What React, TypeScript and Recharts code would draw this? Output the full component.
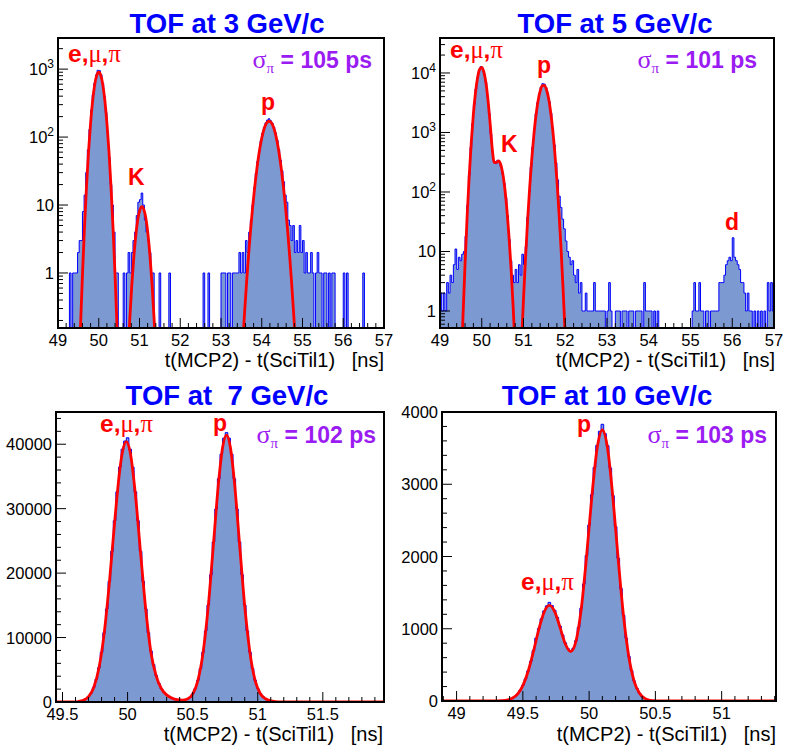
import { Area, ComposedChart, Line, XAxis, YAxis } from "recharts";

const SANS = '"Liberation Sans", Arial, Helvetica, sans-serif';
const SERIF = '"Liberation Serif", "DejaVu Serif", serif';
const HIST_FILL = "#7d99d1";
const HIST_LINE = "#0000ff";
const FIT_RED = "#ff0000";
const TITLE_BLUE = "#0000ff";
const VIOLET = "#9a1cf2";
const AXIS_TITLE = "t(MCP2) - t(SciTil1)   [ns]";

// 3 GeV/c: counts per 0.04 ns bin, one row per ns from 49 ns
const start3 = 49.0;
const width3 = 0.04;
const counts3 = [
  0, 0, 0, 0, 0, 0, 0, 1, 0, 1, 1, 1, 2, 3, 3, 8, 14, 30, 65, 130, 250, 420, 620, 820, 960,
  950, 830, 620, 400, 230, 120, 50, 20, 10, 4, 1, 1, 0, 0, 0, 1, 0, 1, 2, 1, 2, 3, 4, 7, 11,
  12, 15, 10, 6, 4, 3, 2, 1, 1, 0, 0, 0, 1, 0, 0, 0, 0, 0, 1, 0, 0, 0, 0, 0, 0,
  0, 0, 0, 0, 0, 0, 0, 0, 0, 0, 0, 0, 0, 0, 1, 0, 0, 1, 0, 0, 0, 0, 0, 0, 0,
  1, 1, 1, 0, 1, 1, 0, 1, 1, 1, 1, 2, 1, 2, 1, 3, 2, 4, 6, 10, 18, 29, 44, 63, 88,
  114, 140, 162, 178, 186, 174, 160, 140, 115, 90, 66, 46, 32, 22, 14, 11, 6, 5, 3, 5, 2, 3, 2, 5, 2,
  3, 1, 2, 1, 1, 2, 1, 0, 1, 2, 1, 1, 0, 1, 1, 0, 1, 0, 1, 1, 0, 0, 0, 0, 0,
  1, 0, 1, 0, 0, 0, 0, 0, 0, 0, 0, 0, 1, 0, 0, 0, 0, 0, 0, 0, 0, 0, 0, 0, 0,
];
const fit3Pion: [number, number][] = [
  [49.5, 0.02], [49.55, 0.15], [49.6, 0.93], [49.65, 4.7], [49.7, 19], [49.75, 62], [49.8, 162],
  [49.85, 343], [49.9, 586], [49.95, 808], [50.0, 900], [50.05, 808], [50.1, 586], [50.15, 343],
  [50.2, 162], [50.25, 62], [50.3, 19], [50.35, 4.7], [50.4, 0.93], [50.45, 0.15], [50.5, 0.02],
];
const fit3Kaon: [number, number][] = [
  [50.71, 0.05], [50.76, 0.2], [50.81, 0.65], [50.86, 1.7], [50.91, 3.6], [50.96, 6.2], [51.01, 8.5],
  [51.06, 9.5], [51.11, 8.5], [51.16, 6.2], [51.21, 3.6], [51.26, 1.7], [51.31, 0.65], [51.36, 0.2],
  [51.41, 0.05],
];
const fit3Proton: [number, number][] = [
  [53.48, 0.025], [53.53, 0.088], [53.58, 0.27], [53.63, 0.76], [53.68, 1.95], [53.73, 4.6],
  [53.78, 9.8], [53.83, 19], [53.88, 34], [53.93, 56], [53.98, 84], [54.03, 115], [54.08, 144],
  [54.13, 164], [54.18, 172], [54.23, 164], [54.28, 144], [54.33, 115], [54.38, 84], [54.43, 56],
  [54.48, 34], [54.53, 19], [54.58, 9.8], [54.63, 4.6], [54.68, 1.95], [54.73, 0.76], [54.78, 0.27],
  [54.83, 0.088], [54.88, 0.025],
];

// 5 GeV/c: counts per 0.04 ns bin, one row per ns from 49 ns
const start5 = 49.0;
const width5 = 0.04;
const counts5 = [
  2, 1, 2, 1, 3, 2, 4, 3, 6, 11, 5, 8, 7, 9, 10, 18, 60, 190, 560, 1400, 2950, 5400, 8300, 11100, 12800,
  12100, 9700, 6900, 4000, 2100, 950, 470, 320, 300, 340, 330, 270, 200, 140, 80, 40, 16, 7, 4, 3, 5, 3, 6, 4, 9,
  6, 12, 38, 100, 260, 570, 1150, 2050, 3200, 4500, 5800, 6600, 6500, 5700, 4600, 3300, 2100, 1200, 620, 310, 160, 85, 55, 35, 24,
  15, 10, 8, 6, 7, 4, 3, 5, 2, 3, 1, 1, 2, 1, 1, 1, 1, 3, 1, 1, 1, 1, 1, 1, 0,
  1, 3, 1, 0, 0, 1, 1, 1, 0, 1, 1, 1, 0, 1, 1, 1, 0, 1, 1, 1, 1, 0, 3, 1, 1,
  1, 1, 0, 1, 0, 1, 0, 0, 0, 0, 0, 0, 0, 0, 0, 0, 0, 0, 0, 0, 0, 0, 0, 0, 0,
  0, 1, 3, 1, 1, 3, 1, 1, 0, 1, 1, 0, 1, 1, 1, 1, 1, 3, 3, 3, 4, 6, 7, 8, 7,
  17, 8, 7, 6, 5, 3, 3, 2, 1, 2, 1, 1, 0, 1, 0, 1, 0, 1, 0, 1, 0, 3, 1, 3, 1,
];
const fit5PionKaon: [number, number][] = [
  [49.5, 0.077], [49.55, 0.79], [49.6, 6.2], [49.65, 39], [49.7, 187], [49.75, 700], [49.8, 2060],
  [49.85, 4690], [49.9, 8340], [49.95, 11540], [50.0, 12440], [50.05, 10440], [50.1, 6830],
  [50.15, 3500], [50.2, 1430], [50.25, 544], [50.3, 313], [50.35, 314], [50.4, 332], [50.45, 295],
  [50.5, 210], [50.55, 119], [50.6, 53], [50.65, 19], [50.7, 5.5], [50.75, 1.25], [50.8, 0.23],
  [50.85, 0.033],
];
const fit5Proton: [number, number][] = [
  [50.95, 0.26], [51.0, 1.6], [51.05, 8.1], [51.1, 35], [51.15, 125], [51.2, 375], [51.25, 940],
  [51.3, 1970], [51.35, 3430], [51.4, 5000], [51.45, 6100], [51.5, 6210], [51.55, 5280], [51.6, 3750],
  [51.65, 2230], [51.7, 1100], [51.75, 458], [51.8, 159], [51.85, 46], [51.9, 11], [51.95, 2.2],
  [52.0, 0.37], [52.05, 0.05],
];

// 7 GeV/c: counts per 0.02 ns bin from 49.45 ns, 25 bins per row
const start7 = 49.45;
const width7 = 0.02;
const counts7 = [
  0, 0, 1, 2, 4, 8, 18, 36, 73, 142, 265, 480, 840, 1400, 2270, 3540, 5330, 7710, 10750, 14450, 18720, 23380, 28130, 32610, 36440,
  39230, 40500, 41000, 39230, 36440, 32610, 28130, 23380, 18720, 14450, 10750, 7900, 5800, 4100, 2900, 2050, 1500, 1100, 800, 600, 450, 340, 300, 300, 320,
  420, 720, 1240, 2080, 3360, 5200, 7730, 11020, 15050, 19740, 24830, 29950, 34650, 38460, 40940, 41800, 40940, 38460, 34650, 29950, 24830, 19740, 15050, 11020, 7730,
  5200, 3360, 2080, 1300, 800, 500, 300, 180, 100, 60, 30, 15, 8, 4, 2, 1, 0, 0, 0, 0, 0, 0, 0, 0, 0,
  0, 0, 0, 0, 0, 0, 0, 0, 0, 0, 0, 0, 0, 0, 0, 0, 0, 0, 0, 0, 0, 0, 0, 0, 0,
  0,
];
const fit7: [number, number][] = [
  [49.45, 0], [49.5, 1], [49.54, 4], [49.58, 18], [49.62, 72], [49.66, 262], [49.7, 828], [49.74, 2246],
  [49.78, 5260], [49.82, 10620], [49.86, 18490], [49.9, 27780], [49.94, 36000], [49.96, 38740],
  [49.99, 40400], [50.02, 38740], [50.06, 32200], [50.1, 23100], [50.14, 14280], [50.18, 7610],
  [50.22, 4000], [50.26, 2050], [50.3, 1100], [50.34, 600], [50.38, 360], [50.42, 300], [50.46, 480],
  [50.5, 1225], [50.54, 3330], [50.58, 7660], [50.62, 14900], [50.66, 24590], [50.7, 34320],
  [50.73, 39500], [50.76, 41400], [50.79, 39500], [50.82, 34320], [50.86, 24590], [50.9, 14900],
  [50.94, 7660], [50.98, 3330], [51.02, 1290], [51.06, 500], [51.1, 180], [51.14, 60], [51.18, 15],
  [51.22, 4], [51.26, 1], [51.3, 0], [51.97, 0],
];

// 10 GeV/c: counts per 0.02 ns bin from 48.89 ns, 25 bins per row
const start10 = 48.89;
const width10 = 0.02;
const counts10 = [
  0, 0, 0, 0, 0, 0, 0, 0, 0, 0, 0, 0, 0, 0, 0, 0, 0, 0, 0, 0, 1, 2, 4, 7, 13,
  22, 38, 62, 98, 149, 217, 307, 418, 549, 697, 870, 1002, 1138, 1247, 1317, 1365, 1321, 1256, 1158, 1038, 914, 805, 725, 695, 729,
  833, 1019, 1284, 1620, 2014, 2435, 2855, 3233, 3538, 3734, 3830, 3700, 3534, 3226, 2842, 2413, 1976, 1558, 1186, 870, 616, 422, 277, 176, 108,
  63, 36, 20, 10, 5, 3, 1, 0, 0, 0, 0, 0, 0, 0, 0, 0, 0, 0, 0, 0, 0, 0, 0, 0, 0,
  0, 0, 0, 0, 0, 0, 0, 0, 0, 0, 0, 0, 0, 0, 0, 0, 0, 0, 0, 0, 0, 0, 0, 0, 0,
  0,
];
const fit10: [number, number][] = [
  [48.89, 0], [49.26, 0], [49.3, 1], [49.34, 4], [49.38, 12], [49.42, 37], [49.46, 96], [49.5, 214],
  [49.54, 412], [49.58, 686], [49.62, 987], [49.66, 1229], [49.7, 1323], [49.74, 1238], [49.78, 1023],
  [49.82, 792], [49.86, 685], [49.9, 822], [49.94, 1266], [49.98, 1987], [50.02, 2818], [50.06, 3492],
  [50.1, 3751], [50.14, 3488], [50.18, 2805], [50.22, 1950], [50.26, 1170], [50.3, 608], [50.34, 273],
  [50.38, 106], [50.42, 36], [50.46, 10], [50.5, 3], [50.54, 1], [50.58, 0], [51.41, 0],
];

const xMajor3 = [49, 50, 51, 52, 53, 54, 55, 56, 57];
const yMajor3 = [1, 10, 100, 1000];
const yMajor5 = [1, 10, 100, 1000, 10000];
const xMajor7 = [49.5, 50, 50.5, 51, 51.5];
const yMajor7 = [0, 10000, 20000, 30000, 40000];
const xMajor10 = [49, 49.5, 50, 50.5, 51];
const yMajor10 = [0, 1000, 2000, 3000, 4000];

type Pt = { x: number; y: number };

const toHist = (start: number, width: number, counts: number[], floor = 0): Pt[] => {
  const pts = counts.map((c, i) => ({ x: start + i * width, y: Math.max(c, floor) }));
  pts.push({ x: start + counts.length * width, y: Math.max(counts[counts.length - 1], floor) });
  return pts;
};
const toPts = (pairs: [number, number][]): Pt[] => pairs.map(([x, y]) => ({ x, y }));

const steps = (from: number, to: number, step: number) => {
  const out: number[] = [];
  for (let v = from; v <= to + 1e-9; v += step) out.push(Math.round(v * 1000) / 1000);
  return out;
};
const logSteps = (lo: number, hi: number) => {
  const out: number[] = [];
  for (let e = -1; e <= 5; e++)
    for (let m = 1; m <= 9; m++) {
      const v = +(m * 10 ** e).toPrecision(3);
      if (v >= lo && v <= hi) out.push(v);
    }
  return out;
};
const isMajor = (majors: number[], v: number) =>
  majors.some((m) => Math.abs(m - v) <= 1e-6 * Math.max(1, Math.abs(m)));

function XTick(props: any) {
  const { x, y, payload, majors } = props;
  const v: number = payload.value;
  const major = isMajor(majors, v);
  return (
    <g>
      <line x1={x} x2={x} y1={y} y2={y - (major ? 10 : 5)} stroke="#000" strokeWidth={1} />
      {major && (
        <text x={x} y={y + 18} textAnchor="middle" fontFamily={SANS} fontSize={16.5} fill="#000">
          {String(v)}
        </text>
      )}
    </g>
  );
}

function YTick(props: any) {
  const { x, y, payload, majors, log } = props;
  const v: number = payload.value;
  const major = isMajor(majors, v);
  let label = null;
  if (major) {
    if (log && v >= 100) {
      label = (
        <text x={x - 4} y={y + 6} textAnchor="end" fontFamily={SANS} fontSize={16.5} fill="#000">
          10
          <tspan dy={-7} fontSize={12}>
            {Math.round(Math.log10(v))}
          </tspan>
        </text>
      );
    } else {
      label = (
        <text x={x - 4} y={y + 6} textAnchor="end" fontFamily={SANS} fontSize={16.5} fill="#000">
          {String(v)}
        </text>
      );
    }
  }
  return (
    <g>
      <line x1={x} x2={x + (major ? 10 : 5)} y1={y} y2={y} stroke="#000" strokeWidth={1} />
      {label}
    </g>
  );
}

type PanelProps = {
  left: number;
  top: number;
  width: number;
  height: number;
  marginTop: number;
  marginRight: number;
  yWidth: number;
  xHeight: number;
  xDomain: [number, number];
  yDomain: [number, number];
  log: boolean;
  xTicks: number[];
  xMajor: number[];
  yTicks: number[];
  yMajor: number[];
  hist: Pt[];
  fits: Pt[][];
};

function Panel(p: PanelProps) {
  return (
    <div style={{ position: "absolute", left: p.left, top: p.top }}>
      <ComposedChart
        width={p.width}
        height={p.height}
        margin={{ top: p.marginTop, right: p.marginRight, bottom: 0, left: 0 }}
      >
        <Area
          data={p.hist}
          dataKey="y"
          type="stepAfter"
          stroke={HIST_LINE}
          strokeWidth={1}
          fill={HIST_FILL}
          fillOpacity={1}
          dot={false}
          activeDot={false}
          isAnimationActive={false}
        />
        {p.fits.map((f, i) => (
          <Line
            key={i}
            data={f}
            dataKey="y"
            type="monotone"
            stroke={FIT_RED}
            strokeWidth={2.8}
            dot={false}
            activeDot={false}
            isAnimationActive={false}
          />
        ))}
        <XAxis
          type="number"
          dataKey="x"
          domain={p.xDomain}
          allowDataOverflow
          ticks={p.xTicks}
          interval={0}
          height={p.xHeight}
          tickSize={0}
          tickMargin={0}
          tickLine={false}
          axisLine={false}
          tick={<XTick majors={p.xMajor} />}
        />
        <YAxis
          type="number"
          scale={p.log ? "log" : "linear"}
          domain={p.yDomain}
          allowDataOverflow
          ticks={p.yTicks}
          interval={0}
          width={p.yWidth}
          tickSize={0}
          tickMargin={0}
          tickLine={false}
          axisLine={false}
          tick={<YTick majors={p.yMajor} log={p.log} />}
        />
      </ComposedChart>
    </div>
  );
}

function Particles({ x, y }: { x: number; y: number }) {
  return (
    <text x={x} y={y} fill={FIT_RED} fontSize={24.5}>
      <tspan fontFamily={SANS} fontWeight="bold">e,</tspan>
      <tspan fontFamily={SERIF}>μ</tspan>
      <tspan fontFamily={SANS} fontWeight="bold">,</tspan>
      <tspan fontFamily={SERIF}>π</tspan>
    </text>
  );
}

function Letter({ x, y, t }: { x: number; y: number; t: string }) {
  return (
    <text x={x} y={y} fill={FIT_RED} fontSize={23} fontFamily={SANS} fontWeight="bold">
      {t}
    </text>
  );
}

function Sigma({ right, y, value }: { right: number; y: number; value: string }) {
  return (
    <text x={right} y={y} textAnchor="end" fill={VIOLET} fontSize={23} style={{ whiteSpace: "pre" }}>
      <tspan fontFamily={SERIF} fontSize={26}>σ</tspan>
      <tspan fontFamily={SERIF} fontSize={15} dy={5}>π</tspan>
      <tspan fontFamily={SANS} fontWeight="bold" dy={-5}>{` = ${value} ps`}</tspan>
    </text>
  );
}

function Title({ cx, y, t }: { cx: number; y: number; t: string }) {
  return (
    <text
      x={cx}
      y={y}
      textAnchor="middle"
      fill={TITLE_BLUE}
      fontFamily={SANS}
      fontWeight="bold"
      fontSize={27.5}
      style={{ whiteSpace: "pre" }}
    >
      {t}
    </text>
  );
}

function AxisTitle({ right, y }: { right: number; y: number }) {
  return (
    <text x={right} y={y} textAnchor="end" fill="#000" fontFamily={SANS} fontSize={20} style={{ whiteSpace: "pre" }}>
      {AXIS_TITLE}
    </text>
  );
}

export default function App() {
  return (
    <div style={{ position: "absolute", left: 0, top: 0, width: 789, height: 749, background: "#fff" }}>
      <Panel
        left={0}
        top={0}
        width={395}
        height={375}
        marginTop={38}
        marginRight={11}
        yWidth={58}
        xHeight={47}
        xDomain={[49, 57]}
        yDomain={[0.155, 2870]}
        log
        xTicks={steps(49, 57, 0.2)}
        xMajor={xMajor3}
        yTicks={logSteps(0.155, 2870)}
        yMajor={yMajor3}
        hist={toHist(start3, width3, counts3, 0.155)}
        fits={[toPts(fit3Pion), toPts(fit3Kaon), toPts(fit3Proton)]}
      />
      <Panel
        left={395}
        top={0}
        width={394}
        height={375}
        marginTop={38}
        marginRight={15}
        yWidth={45}
        xHeight={47}
        xDomain={[49, 57]}
        yDomain={[0.518, 38700]}
        log
        xTicks={steps(49, 57, 0.2)}
        xMajor={xMajor3}
        yTicks={logSteps(0.518, 38700)}
        yMajor={yMajor5}
        hist={toHist(start5, width5, counts5, 0.518)}
        fits={[toPts(fit5PionKaon), toPts(fit5Proton)]}
      />
      <Panel
        left={0}
        top={375}
        width={395}
        height={374}
        marginTop={37}
        marginRight={11}
        yWidth={56}
        xHeight={47}
        xDomain={[49.45, 51.97]}
        yDomain={[0, 45000]}
        log={false}
        xTicks={steps(49.5, 51.9, 0.1)}
        xMajor={xMajor7}
        yTicks={steps(0, 44000, 2000)}
        yMajor={yMajor7}
        hist={toHist(start7, width7, counts7)}
        fits={[toPts(fit7)]}
      />
      <Panel
        left={395}
        top={375}
        width={394}
        height={374}
        marginTop={37}
        marginRight={13}
        yWidth={47}
        xHeight={48}
        xDomain={[48.89, 51.41]}
        yDomain={[0, 4000]}
        log={false}
        xTicks={steps(48.9, 51.4, 0.1)}
        xMajor={xMajor10}
        yTicks={steps(0, 4000, 200)}
        yMajor={yMajor10}
        hist={toHist(start10, width10, counts10)}
        fits={[toPts(fit10)]}
      />
      <svg
        width={789}
        height={749}
        style={{ position: "absolute", left: 0, top: 0, pointerEvents: "none" }}
      >
        <rect x={58} y={38} width={326} height={290} fill="none" stroke="#000" strokeWidth={2} />
        <rect x={440} y={38} width={334} height={290} fill="none" stroke="#000" strokeWidth={2} />
        <rect x={56} y={412} width={328} height={290} fill="none" stroke="#000" strokeWidth={2} />
        <rect x={442} y={412} width={334} height={289} fill="none" stroke="#000" strokeWidth={2} />

        <Title cx={227} y={33} t="TOF at 3 GeV/c" />
        <Title cx={615} y={33} t="TOF at 5 GeV/c" />
        <Title cx={227} y={405} t="TOF at  7 GeV/c" />
        <Title cx={607} y={404.5} t="TOF at 10 GeV/c" />

        <AxisTitle right={384} y={367} />
        <AxisTitle right={775} y={367} />
        <AxisTitle right={383} y={741} />
        <AxisTitle right={776} y={741} />

        <Particles x={68} y={62} />
        <Letter x={128} y={185} t="K" />
        <Letter x={261} y={109.5} t="p" />
        <Sigma right={372} y={68.3} value="105" />

        <Particles x={450} y={58.3} />
        <Letter x={501} y={151.7} t="K" />
        <Letter x={537} y={72.5} t="p" />
        <Letter x={725} y={230} t="d" />
        <Sigma right={757} y={68.3} value="101" />

        <Particles x={100} y={432} />
        <Letter x={213} y={430.5} t="p" />
        <Sigma right={376} y={443.3} value="102" />

        <Particles x={521} y={590} />
        <Letter x={577} y={432} t="p" />
        <Sigma right={767} y={443.3} value="103" />
      </svg>
    </div>
  );
}
